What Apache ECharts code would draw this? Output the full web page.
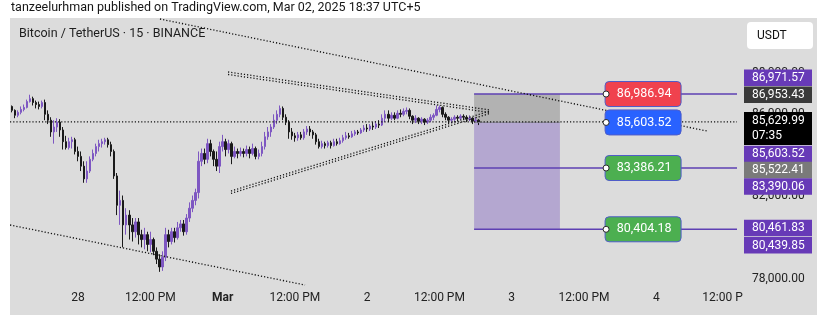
<!DOCTYPE html>
<html><head><meta charset="utf-8">
<script src="https://cdn.jsdelivr.net/npm/echarts@6/dist/echarts.min.js"></script>
<style>html,body{margin:0;padding:0;background:#fff}#c{width:828px;height:327px}</style>
</head><body><div id="c"></div>
<script>
const FONT = 'Roboto, "Noto Sans", sans-serif';
// 30-minute candles, time in hours since Feb 28 00:00
const candleStartHour = -11.5;
const candleStepHours = 0.5;
const opens = [86429,86381,86191,85953,86095,86238,86334,86619,86762,86572,
86476,86381,86572,86000,85714,85143,85381,85619,85238,84667,
84381,84667,84762,84191,83952,83476,82857,83238,83810,84095,
84429,84572,84667,84762,84524,84191,83000,81572,81810,80619,
81095,80619,80286,80762,80143,79905,80143,79667,79905,79333,
78952,78571,79048,80143,79810,80286,80000,80476,80667,80286,
80952,81429,81810,82191,83714,84095,83810,84572,84191,83810,
83476,84429,84667,84286,84572,83952,84191,84095,84191,84095,
84286,84095,84333,83952,84095,84429,84905,85143,85381,85714,
86000,86286,85857,85619,85143,84953,84857,85000,84857,85143,
85286,85143,85000,84667,84429,84572,84476,84619,84476,84667,
84572,84714,84857,84953,84905,85048,85143,85095,85238,85333,
85286,85429,85381,85524,85476,85810,86000,85810,85953,85810,
86048,86000,86143,86191,85905,85714,85810,85667,85762,85619,
85714,85857,85953,86238,86334,86000,85857,85714,85762,85857,
85810,85905,85857,85762,85810,85667,85714];
const closes = [86381,86191,85953,86095,86238,86334,86619,86762,86572,86476,
86381,86572,86000,85714,85143,85381,85619,85238,84667,84381,
84667,84762,84191,83952,83476,82857,83238,83810,84095,84429,
84572,84667,84762,84524,84191,83000,81572,81810,80619,81095,
80619,80286,80762,80143,79905,80143,79667,79905,79333,78952,
78571,79048,80143,79810,80286,80000,80476,80667,80286,80952,
81429,81810,82191,83714,84095,83810,84572,84191,83810,83476,
84429,84667,84286,84572,83952,84191,84095,84191,84095,84286,
84095,84333,83952,84095,84429,84905,85143,85381,85714,86000,
86286,85857,85619,85143,84953,84857,85000,84857,85143,85286,
85143,85000,84667,84429,84572,84476,84619,84476,84667,84572,
84714,84857,84953,84905,85048,85143,85095,85238,85333,85286,
85429,85381,85524,85476,85810,86000,85810,85953,85810,86048,
86000,86143,86191,85905,85714,85810,85667,85762,85619,85714,
85857,85953,86238,86334,86000,85857,85714,85762,85857,85810,
85905,85857,85762,85810,85667,85714,85629.99];
const highs = [86476,86429,86238,86191,86381,86476,86714,86953,86857,86667,
86619,86667,86714,86191,85857,85714,85810,85762,85381,84953,
84857,84905,84857,84429,84191,83714,83714,83952,84286,84572,
84762,84810,84857,84857,84667,84286,83143,82286,82048,81429,
81333,80952,80952,80952,80381,80476,80286,80286,80000,79524,
79191,79333,80476,80381,80476,80476,80762,80857,80857,81143,
81714,82048,82381,84191,84333,84333,84810,84762,84286,84191,
84667,85000,84810,84762,84667,84429,84333,84381,84333,84476,
84429,84572,84429,84286,84667,85143,85381,85524,86000,86191,
86429,86381,86000,85714,85333,85095,85143,85143,85286,85429,
85429,85238,85095,84810,84714,84667,84714,84714,84810,84810,
84857,85000,85143,85095,85191,85238,85238,85333,85476,85524,
85524,85619,85667,85714,86000,86191,86191,86095,86095,86191,
86238,86286,86334,86286,85953,85953,85857,85857,85810,85810,
86000,86048,86429,86429,86381,86095,85905,85857,85953,85953,
86000,86000,85953,85953,85857,85857,85762];
const lows = [86238,86095,85810,85857,86000,86143,86286,86572,86429,86286,
86238,86286,85714,85524,84905,84572,85143,84905,84286,84286,
84286,84333,84048,83714,83238,82667,82667,83143,83714,83952,
84191,84381,84524,84381,83952,82857,81095,80619,79524,80143,
79905,79810,80000,79667,79524,79429,79333,79286,79143,78714,
78333,78381,78857,79524,79667,79762,79905,80286,80095,80143,
80762,81238,81572,81905,83476,83572,83619,83952,83476,83238,
83143,84191,83952,84095,83572,83857,83857,83952,83905,83952,
83857,84000,83810,83810,83952,84286,84762,84905,85286,85524,
85857,85714,85476,84810,84762,84667,84714,84762,84762,85000,
84953,84810,84524,84333,84333,84333,84381,84333,84429,84476,
84524,84619,84762,84810,84857,84953,85000,85048,85143,85143,
85191,85238,85286,85333,85429,85619,85619,85714,85714,85762,
85857,85905,86000,85762,85524,85572,85524,85524,85476,85524,
85619,85714,85905,86095,85857,85714,85524,85572,85619,85667,
85714,85714,85619,85667,85524,85572,85476];
const lastPrice = 85629.99;
const countdown = '07:35';
// axes
const timeTickHours = [0,12,24,36,48,60,72,84,96,108];
const timeTickLabels = ['28','12:00 PM','Mar','12:00 PM','2','12:00 PM','3','12:00 PM','4','12:00 P'];
const priceTicks = [78000, 82000, 86000, 88000];
// drawings: [hour, price]
const trendTop = [[13.6, 90637], [104.4, 85187]];
const trendLowLeft = [[-11.29, 80613], [37.68, 77693]];
const triUpperA = [[24.9, 88058], [68.38, 86209]];
const triUpperB = [[24.9, 87936], [68.38, 86087]];
const triLowerA = [[25.39, 82267], [68.38, 86160]];
const triLowerB = [[25.39, 82150], [68.38, 86043]];
// position tool
const posStartHour = 65.75, posEndHour = 80;
const posLevels = [86986.94, 85603.52, 83386.21, 80404.18];
const posLabelHour = 87.5;
// price-scale tags
const tagPrices = [86971.57, 86953.43, 85629.99, 85603.52, 85522.41, 83390.06, 80461.83, 80439.85];

const xMin = -11.3, xMax = 109.4, yMin = 77596, yMax = 90686;
const fmt = v => Number(v).toLocaleString('en-US', {minimumFractionDigits: 2, maximumFractionDigits: 2});

const chart = echarts.init(document.getElementById('c'), null, {renderer: 'canvas', width: 828, height: 327});
const candleData = opens.map((o, i) => [candleStartHour + i * candleStepHours, o, closes[i], lows[i], highs[i]]);

const dotted = (data, w) => ({
  type: 'line', data, symbol: 'none', silent: true, z: 4, clip: true,
  lineStyle: {color: '#111111', width: w || 1.3, type: [1.2, 2]}
});

const zoneColors = ['#b2b2b2', '#b4a7d0'];
const levelBoxColors = ['#f0424e', '#2962ff', '#4caf50', '#4caf50'];

const option = {
  animation: false,
  backgroundColor: '#ffffff',
  grid: {left: 10, right: 91, top: 18, bottom: 40, containLabel: false},
  xAxis: {
    type: 'value', min: xMin, max: xMax,
    axisLine: {show: false}, axisTick: {show: false}, splitLine: {show: false},
    axisLabel: {
      customValues: timeTickHours, margin: 5, color: '#222', fontSize: 12, fontFamily: FONT,
      formatter: (v) => {
        const i = timeTickHours.indexOf(v);
        const t = i >= 0 ? timeTickLabels[i] : '';
        if (t === 'Mar') return '{b|' + t + '}';
        if (i === timeTickHours.length - 1) return '{last|' + t + '}';
        return t;
      },
      rich: {b: {fontWeight: 'bold', fontSize: 12, fontFamily: FONT, color: '#222'},
             last: {padding: [0, 12, 0, 0], fontSize: 12, fontFamily: FONT, color: '#222'}}
    }
  },
  yAxis: {
    type: 'value', position: 'right', min: yMin, max: yMax, scale: true,
    axisLine: {show: false}, axisTick: {show: false}, splitLine: {show: false},
    axisLabel: {customValues: priceTicks, margin: 15, color: '#222', fontSize: 12, fontFamily: FONT, formatter: fmt}
  },
  series: [
    {
      type: 'custom', z: 1, silent: true, clip: true,
      data: [[posStartHour, posEndHour, posLevels[0], posLevels[1]], [posStartHour, posEndHour, posLevels[1], posLevels[3]]],
      encode: {x: [0, 1], y: [2, 3]},
      renderItem: (params, api) => {
        const a = api.coord([api.value(0), api.value(2)]);
        const b = api.coord([api.value(1), api.value(3)]);
        return {type: 'rect', shape: {x: a[0], y: a[1], width: b[0] - a[0], height: b[1] - a[1]},
                style: {fill: zoneColors[params.dataIndex]}};
      }
    },
    {
      type: 'candlestick', z: 3, data: candleData, encode: {x: 0, y: [1, 2, 3, 4]},
      barWidth: 2, silent: true,
      itemStyle: {color: '#7e57c2', color0: '#1a1a1a', borderColor: '#7e57c2', borderColor0: '#1a1a1a', borderWidth: 1}
    },
    {
      type: 'custom', z: 4, silent: true, clip: true,
      data: posLevels.map(p => [posStartHour, p]),
      encode: {x: 0, y: 1},
      renderItem: (params, api) => {
        const a = api.coord([api.value(0), api.value(1)]);
        const isEntry = params.dataIndex === 1;
        const b = api.coord([isEntry ? posEndHour : xMax, api.value(1)]);
        return {type: 'line', shape: {x1: a[0], y1: a[1], x2: b[0], y2: b[1]},
                style: {stroke: isEntry ? '#8c8a98' : '#5e40b3', lineWidth: isEntry ? 1 : 1.4}};
      }
    },
    dotted([[xMin, lastPrice], [xMax, lastPrice]], 1.3),
    dotted(trendTop), dotted(trendLowLeft),
    dotted(triUpperA), dotted(triUpperB), dotted(triLowerA), dotted(triLowerB),
    {
      type: 'custom', z: 6, silent: true, clip: false,
      data: posLevels.map(p => [posLabelHour, p]),
      encode: {x: 0, y: 1},
      renderItem: (params, api) => {
        const pt = api.coord([api.value(0), api.value(1)]);
        const w = 76, h = 25;
        return {type: 'group', children: [
          {type: 'rect', shape: {x: pt[0], y: pt[1] - h / 2, width: w, height: h, r: 4},
           style: {fill: levelBoxColors[params.dataIndex], stroke: '#4f5cc8', lineWidth: 1}},
          {type: 'text', style: {text: fmt(api.value(1)), x: pt[0] + w / 2 + 1, y: pt[1], align: 'center', verticalAlign: 'middle',
           fill: '#ffffff', fontSize: 12.5, fontFamily: FONT}},
          {type: 'circle', shape: {cx: pt[0] + 1, cy: pt[1], r: 3}, style: {fill: '#ffffff', stroke: '#2a2a2a', lineWidth: 1}}
        ]};
      }
    }
  ],
  graphic: [
    {type: 'rect', z: -10, silent: true, shape: {x: 10, y: 18, width: 807, height: 297}, style: {fill: '#dcdcdc'}},
    {type: 'text', z: 10, silent: true, style: {text: 'tanzeelurhman published on TradingView.com, Mar 02, 2025 18:37 UTC+5',
      x: 11, y: 8, verticalAlign: 'middle', fill: '#161616', fontSize: 12.5, fontFamily: FONT}},
    {type: 'text', z: 10, silent: true, style: {text: 'Bitcoin / TetherUS · 15 · BINANCE',
      x: 19, y: 34, verticalAlign: 'middle', fill: '#1e1e1e', fontSize: 12.5, fontFamily: FONT}},
    {type: 'rect', z: 10, silent: true, shape: {x: 747, y: 22, width: 66, height: 27, r: 4}, style: {fill: '#ffffff'}},
    {type: 'text', z: 11, silent: true, style: {text: 'USDT', x: 757, y: 35.5, verticalAlign: 'middle', fill: '#111', fontSize: 12, fontFamily: FONT}}
  ]
};
chart.setOption(option);

// price-scale tags, anchored at their prices and stacked like the reference
const tagColors = ['#673ab7', '#3a3a3a', '#000000', '#673ab7', '#7a7a7a', '#673ab7', '#673ab7', '#673ab7'];
const tagShift = [-16.5, 0, -1.6, 31.5, 46, 18.5, 0, 16.8];
const tagEls = [];
tagPrices.forEach((p, i) => {
  const anchor = chart.convertToPixel({yAxisIndex: 0}, p);
  const top = anchor + tagShift[i] - 8.25;
  const isLast = p === lastPrice;
  const h = isLast ? 33 : 16.5;
  tagEls.push({type: 'rect', z: 100, silent: true, shape: {x: 744, y: top, width: 68, height: h}, style: {fill: tagColors[i]}});
  tagEls.push({type: 'text', z: 101, silent: true, style: {text: fmt(p), x: 752, y: top + 8.5, verticalAlign: 'middle',
    fill: '#ffffff', fontSize: 12, fontFamily: FONT}});
  if (isLast) {
    tagEls.push({type: 'text', z: 101, silent: true, style: {text: countdown, x: 752, y: top + 23.5, verticalAlign: 'middle',
      fill: '#ffffff', fontSize: 12, fontFamily: FONT}});
  }
});
chart.setOption({graphic: option.graphic.concat(tagEls)});
</script></body></html>
